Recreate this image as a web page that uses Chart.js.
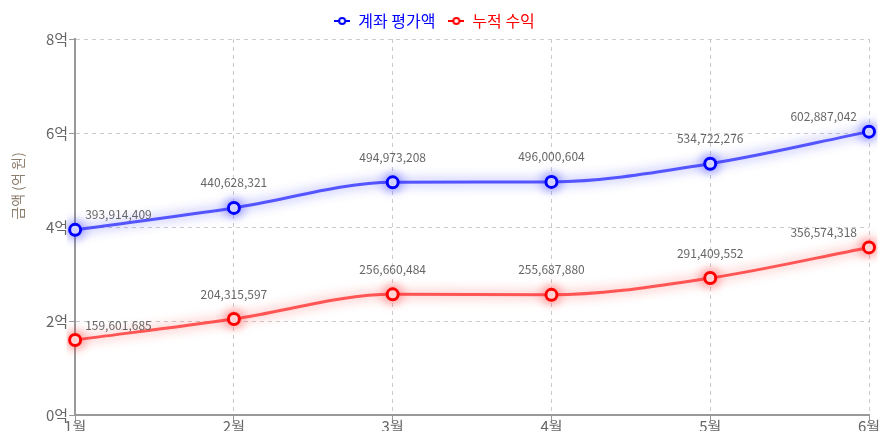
<!DOCTYPE html>
<html><head><meta charset="utf-8">
<script src="https://cdn.jsdelivr.net/npm/chart.js@4"></script>
<style>html,body{margin:0;padding:0;background:#fff}#wrap{width:887px;height:440px}</style>
</head><body><div id="wrap"><canvas id="c"></canvas></div>
<script>
const categories = ['1월','2월','3월','4월','5월','6월'];
const accountValue = [393914409, 440628321, 494973208, 496000604, 534722276, 602887042];
const cumulativeProfit = [159601685, 204315597, 256660484, 255687880, 291409552, 356574318];
const seriesNames = ['계좌 평가액','누적 수익'];
const yTicks = [0, 200000000, 400000000, 600000000, 800000000];
const yTitle = '금액 (억 원)';

const FONT = "'Noto Sans CJK KR', 'Noto Sans', sans-serif";

function legendIcon(color){
  const cv = document.createElement('canvas');
  cv.width = 16; cv.height = 10;
  const x = cv.getContext('2d');
  x.strokeStyle = color; x.lineWidth = 2;
  x.beginPath(); x.moveTo(0,5); x.lineTo(16,5); x.stroke();
  x.fillStyle = '#fff'; x.beginPath(); x.arc(8,5,3,0,Math.PI*2); x.fill(); x.stroke();
  return cv;
}

const glow = {
  id:'glow',
  beforeDatasetDraw(chart, args){
    const ds = chart.data.datasets[args.index];
    chart.ctx.save();
    chart.ctx.shadowColor = ds.glowColor;
    chart.ctx.shadowBlur = 12;
  },
  afterDatasetDraw(chart){ chart.ctx.restore(); }
};

const labels = {
  id:'valueLabels',
  afterDatasetsDraw(chart){
    const ctx = chart.ctx, area = chart.chartArea;
    ctx.save();
    ctx.font = "12px " + FONT;
    ctx.fillStyle = '#666';
    ctx.textBaseline = 'middle';
    chart.data.datasets.forEach((ds, di) => {
      const meta = chart.getDatasetMeta(di);
      meta.data.forEach((pt, i) => {
        const txt = ds.data[i].toLocaleString('en-US');
        const w = ctx.measureText(txt).width;
        let x = pt.x - w/2;
        const edge = (i === 0 || i === ds.data.length - 1);
        if (x < area.left + 10) x = area.left + 10;
        if (x + w > area.right - 12) x = area.right - 12 - w;
        const y = pt.y - (edge ? 15 : 25);
        ctx.textAlign = 'left';
        ctx.fillText(txt, x, y);
      });
    });
    // y axis title
    ctx.translate(18, 186);
    ctx.rotate(-Math.PI/2);
    ctx.font = "14px " + FONT;
    ctx.fillStyle = '#8b7b6b';
    ctx.textAlign = 'center';
    ctx.fillText(yTitle, 0, 0);
    ctx.restore();
  }
};

new Chart(document.getElementById('c'), {
  type:'line',
  data:{
    labels: categories,
    datasets:[
      {label: seriesNames[0], data: accountValue, borderColor:'rgba(70,70,255,0.9)', glowColor:'rgba(40,40,255,0.7)',
       borderWidth:3, pointBackgroundColor:'#fff', pointBorderColor:'#0000ff', pointBorderWidth:3, pointRadius:5.5,
       cubicInterpolationMode:'monotone', legendColor:'#0000ff'},
      {label: seriesNames[1], data: cumulativeProfit, borderColor:'rgba(255,70,70,0.9)', glowColor:'rgba(255,40,40,0.7)',
       borderWidth:3, pointBackgroundColor:'#fff', pointBorderColor:'#ff0000', pointBorderWidth:3, pointRadius:5.5,
       cubicInterpolationMode:'monotone', legendColor:'#ff0000'}
    ]
  },
  plugins:[glow, labels],
  options:{
    responsive:true, maintainAspectRatio:false, animation:false,
    layout:{padding:{left:0, right:18, top:0, bottom:9}},
    plugins:{
      tooltip:{enabled:false},
      legend:{
        position:'top',
        labels:{
          font:{size:16, family:FONT},
          usePointStyle:true,
          boxWidth:16, boxHeight:10, padding:13,
          generateLabels(chart){
            return chart.data.datasets.map((ds,i)=>({
              text: ds.label, pointStyle: legendIcon(ds.legendColor), fontColor: ds.legendColor,
              datasetIndex:i, hidden:false, lineWidth:0, strokeStyle:'transparent', fillStyle:'transparent'
            }));
          }
        }
      }
    },
    scales:{
      x:{
        offset:false,
        grid:{color:'#ccc', drawTicks:true, tickLength:6, tickColor:'#999'},
        border:{display:true, color:'#999', width:2, dash:[4,4]},
        ticks:{font:{size:15, family:FONT}, color:'#666', padding:-4}
      },
      y:{
        min:0, max:800000000,
        afterBuildTicks(scale){ scale.ticks = yTicks.map(v=>({value:v})); },
        afterFit(scale){ scale.width += 45; },
        grid:{color:'#ccc', tickLength:6, tickColor:'#999'},
        border:{display:true, color:'#999', width:2, dash:[4,4]},
        ticks:{font:{size:15, family:FONT}, color:'#666', padding:1,
          callback:(v)=> (v/100000000) + '억'}
      }
    }
  }
});
</script></body></html>
